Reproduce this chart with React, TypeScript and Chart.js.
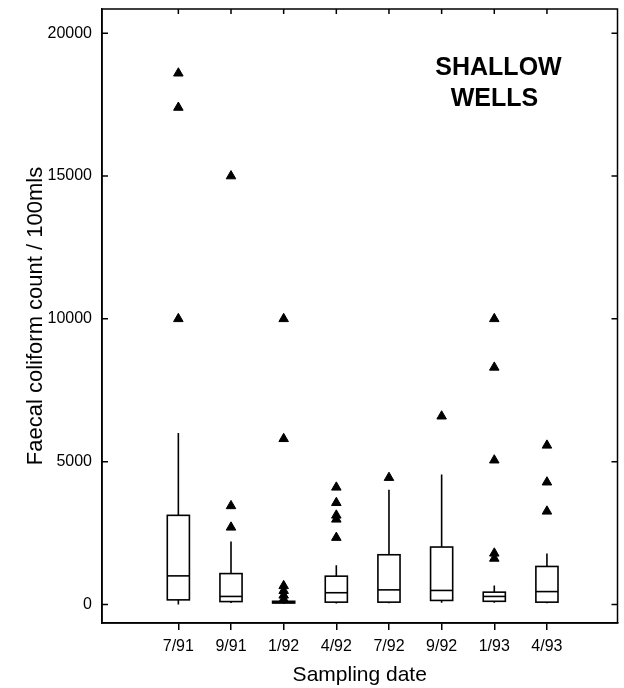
import React, { useEffect, useRef } from 'react';
import { Chart, registerables } from 'chart.js';

Chart.register(...registerables);

const categories = ['7/91', '9/91', '1/92', '4/92', '7/92', '9/92', '1/93', '4/93'];
const whiskerLow = [0, 50, 20, 30, 40, 60, 60, 40];
const q1 = [160, 100, 50, 80, 80, 140, 110, 80];
const median = [1000, 280, 70, 410, 510, 490, 280, 450];
const q3 = [3120, 1080, 110, 990, 1740, 2010, 430, 1330];
const whiskerHigh = [6000, 2200, 150, 1370, 4020, 4550, 660, 1780];
const outliers = [
  [18600, 17400, 10000],
  [15000, 3450, 2700],
  [10000, 5800, 650, 480, 320, 180],
  [4100, 3560, 3120, 2980, 2340],
  [4440],
  [6590],
  [10000, 8300, 5050, 1790, 1610],
  [5570, 4280, 3260],
];
const yTicks = [0, 5000, 10000, 15000, 20000];
const annotation = ['SHALLOW', 'WELLS'];

const FONT = "'Liberation Sans', Arial, Helvetica, sans-serif";

const boxPlugin = {
  id: 'boxes',
  beforeDatasetsDraw(chart: any) {
    const { ctx, scales } = chart;
    const x = scales.x;
    const y = scales.y;
    ctx.save();
    ctx.strokeStyle = '#000';
    ctx.lineWidth = 1.6;
    categories.forEach((_, i) => {
      const xc = x.getPixelForValue(i);
      const hw = x.getPixelForValue(i + 0.21) - xc;
      const yq1 = y.getPixelForValue(q1[i]);
      const yq3 = y.getPixelForValue(q3[i]);
      const ym = y.getPixelForValue(median[i]);
      const yhi = y.getPixelForValue(whiskerHigh[i]);
      const ylo = y.getPixelForValue(whiskerLow[i]);
      ctx.beginPath();
      ctx.moveTo(xc, yq3);
      ctx.lineTo(xc, yhi);
      ctx.moveTo(xc, yq1);
      ctx.lineTo(xc, ylo);
      ctx.stroke();
      ctx.fillStyle = '#fff';
      ctx.fillRect(xc - hw, yq3, 2 * hw, yq1 - yq3);
      ctx.strokeRect(xc - hw, yq3, 2 * hw, yq1 - yq3);
      ctx.beginPath();
      ctx.moveTo(xc - hw, ym);
      ctx.lineTo(xc + hw, ym);
      ctx.stroke();
    });
    ctx.restore();
  },
  afterDraw(chart: any) {
    const { ctx, chartArea, scales } = chart;
    const x = scales.x;
    const y = scales.y;
    ctx.save();
    ctx.strokeStyle = '#000';
    ctx.lineWidth = 1.5;
    ctx.strokeRect(chartArea.left, chartArea.top, chartArea.right - chartArea.left, chartArea.bottom - chartArea.top);
    ctx.beginPath();
    yTicks.forEach((v) => {
      const py = y.getPixelForValue(v);
      ctx.moveTo(chartArea.left, py);
      ctx.lineTo(chartArea.left + 6, py);
      ctx.moveTo(chartArea.right, py);
      ctx.lineTo(chartArea.right - 6, py);
    });
    categories.forEach((_, i) => {
      const px = x.getPixelForValue(i);
      ctx.moveTo(px, chartArea.top);
      ctx.lineTo(px, chartArea.top + 5);
    });
    ctx.stroke();
    ctx.fillStyle = '#000';
    ctx.font = `bold 25px ${FONT}`;
    ctx.textAlign = 'center';
    ctx.textBaseline = 'alphabetic';
    const ax = x.getPixelForValue(6.08);
    ctx.fillText(annotation[0], ax, y.getPixelForValue(18530));
    ctx.fillText(annotation[1], ax - 4, y.getPixelForValue(17450));
    ctx.restore();
  },
};

export default function App() {
  const ref = useRef<HTMLCanvasElement>(null);
  useEffect(() => {
    const canvas = ref.current;
    if (!canvas) return;
    const points: { x: number; y: number }[] = [];
    outliers.forEach((arr, i) => arr.forEach((v) => points.push({ x: i, y: v })));
    const chart = new Chart(canvas, {
      type: 'scatter',
      data: {
        datasets: [
          {
            data: points,
            pointStyle: 'triangle',
            radius: 5.5,
            backgroundColor: '#000',
            borderColor: '#000',
            borderWidth: 1,
          },
        ],
      },
      options: {
        animation: false,
        responsive: false,
        devicePixelRatio: 1,
        layout: { padding: { left: 0, top: 9, right: 3, bottom: 0 } },
        plugins: { legend: { display: false }, tooltip: { enabled: false } },
        scales: {
          x: {
            type: 'linear',
            min: -1.45,
            max: 8.34,
            afterBuildTicks: (scale: any) => {
              scale.ticks = categories.map((_, i) => ({ value: i }));
            },
            afterFit: (scale: any) => {
              scale.height = 65;
              scale.paddingLeft = 0;
              scale.paddingRight = 0;
            },
            ticks: {
              autoSkip: false,
              maxRotation: 0,
              padding: 7,
              color: '#000',
              font: { family: FONT, size: 16 },
              callback: (v: any) => categories[v as number] ?? '',
            },
            grid: { drawOnChartArea: false, drawTicks: true, tickLength: 7, color: '#000', lineWidth: 1.5 },
            border: { display: true, color: '#000', width: 1.5 },
            title: {
              display: true,
              text: 'Sampling date',
              color: '#000',
              font: { family: FONT, size: 21 },
              padding: { top: 0, bottom: 0 },
            },
          },
          y: {
            min: -650,
            max: 20850,
            afterBuildTicks: (scale: any) => {
              scale.ticks = yTicks.map((v) => ({ value: v }));
            },
            afterFit: (scale: any) => {
              scale.width = 102;
              scale.paddingTop = 0;
              scale.paddingBottom = 0;
            },
            ticks: {
              padding: 10,
              color: '#000',
              font: { family: FONT, size: 16 },
              callback: (v: any) => String(v),
            },
            grid: { drawOnChartArea: false, drawTicks: false },
            border: { display: true, color: '#000', width: 1.5 },
            title: {
              display: true,
              text: 'Faecal coliform count / 100mls',
              color: '#000',
              font: { family: FONT, size: 22 },
              padding: { top: 23, bottom: 0 },
            },
          },
        },
      },
      plugins: [boxPlugin],
    });
    return () => chart.destroy();
  }, []);
  return (
    <div style={{ position: 'absolute', left: 0, top: 0, width: 624, height: 688, background: '#fff' }}>
      <canvas ref={ref} width={624} height={688} style={{ display: 'block' }} />
    </div>
  );
}
